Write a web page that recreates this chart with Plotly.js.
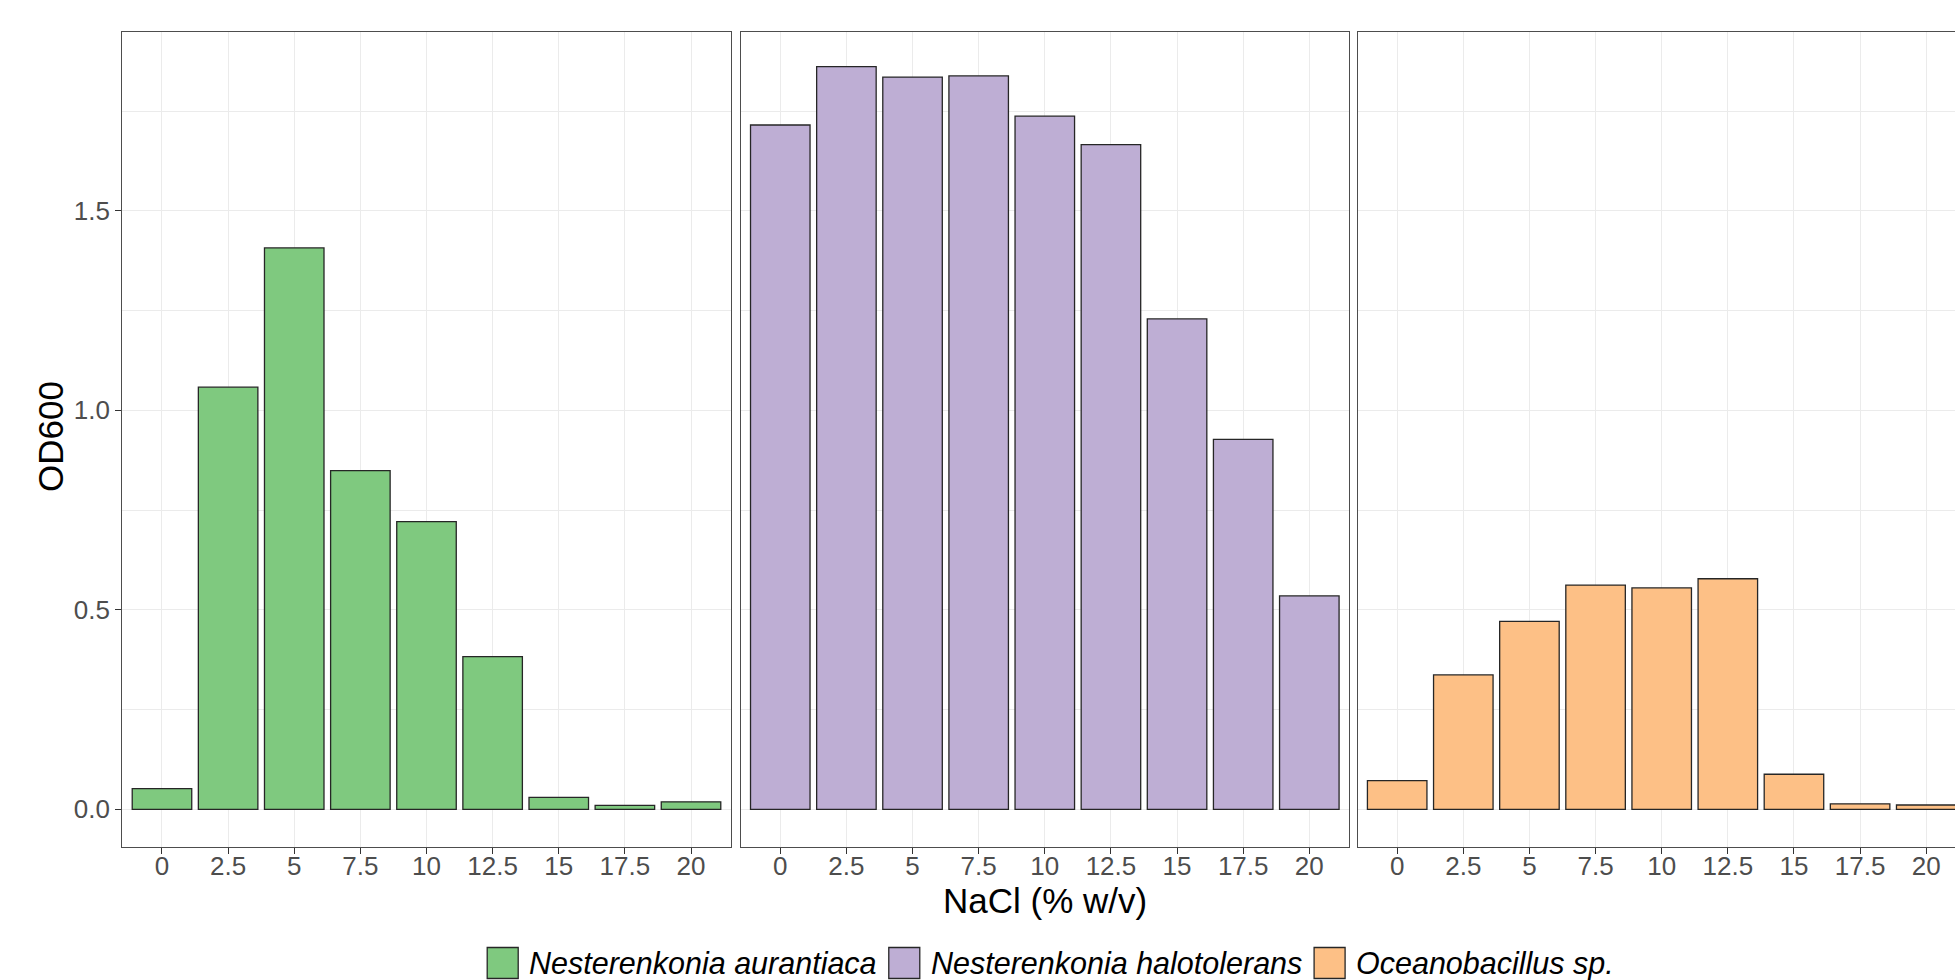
<!DOCTYPE html>
<html>
<head>
<meta charset="utf-8">
<script src="https://cdn.plot.ly/plotly-3.0.1.min.js"></script>
<style>
  html, body { margin: 0; padding: 0; background: #ffffff; }
  #chart { width: 1955px; height: 980px; }
</style>
</head>
<body>
<div id="chart"></div>
<script>
// ---- data ----
const nacl = ['0', '2.5', '5', '7.5', '10', '12.5', '15', '17.5', '20'];
const species = ['Nesterenkonia aurantiaca', 'Nesterenkonia halotolerans', 'Oceanobacillus sp.'];
const odAurantiaca = [0.052, 1.058, 1.407, 0.849, 0.721, 0.383, 0.030, 0.010, 0.019];
const odHalotolerans = [1.715, 1.861, 1.835, 1.838, 1.737, 1.666, 1.229, 0.927, 0.535];
const odOceanobacillus = [0.072, 0.337, 0.471, 0.562, 0.555, 0.578, 0.088, 0.014, 0.011];
const fillColors = ['#7FC97F', '#BEAED4', '#FDC086'];
const yTitle = 'OD600';
const xTitle = 'NaCl (% w/v)';

// ---- layout geometry (pixels) ----
const W = 1955, H = 980;
const FONT = '"Liberation Sans", Arial, sans-serif';
const panelLeft = [122.3, 740.6, 1357.5];
const panelWidth = 608.4;
const panelTop = 32.4, panelBottom = 846.7;
const catWidth = panelWidth / 9.2;
const px = v => v / W;
const py = v => 1 - v / H;

const seriesValues = [odAurantiaca, odHalotolerans, odOceanobacillus];
const axisIds = ['', '2', '3'];

const traces = seriesValues.map((vals, i) => ({
  type: 'bar',
  name: species[i],
  x: nacl,
  y: vals,
  xaxis: 'x' + axisIds[i],
  yaxis: 'y' + axisIds[i],
  marker: { color: fillColors[i], line: { color: '#262626', width: 1.3 } },
  showlegend: false,
  hovertemplate: species[i] + '<br>NaCl %{x}%<br>OD600 %{y}<extra></extra>'
}));

const yRange = [-0.0935, 1.947];
const gridColor = '#EBEBEB';
const lineColor = '#4D4D4D';
const tickFontSize = 26;

function xAxis(i) {
  const left = panelLeft[i];
  const right = Math.min(left + panelWidth, W);
  const visibleCats = (right - left) / catWidth;
  return {
    type: 'category',
    categoryorder: 'array',
    categoryarray: nacl,
    domain: [px(left), px(right)],
    range: [-0.6, -0.6 + visibleCats],
    anchor: 'y' + axisIds[i],
    showgrid: true, gridcolor: gridColor, gridwidth: 1,
    showline: true, mirror: true, linecolor: lineColor, linewidth: 1.3,
    ticks: 'outside', ticklen: 6, tickwidth: 1.1, tickcolor: '#333333',
    ticklabelstandoff: -10,
    tickfont: { family: FONT, size: tickFontSize, color: '#4D4D4D' },
    zeroline: false, fixedrange: true
  };
}
function yAxis(i) {
  return {
    domain: [py(panelBottom), py(panelTop)],
    range: yRange,
    anchor: 'x' + axisIds[i],
    matches: i === 0 ? undefined : 'y',
    tickmode: 'array',
    tickvals: [0, 0.5, 1.0, 1.5],
    ticktext: ['0.0', '0.5', '1.0', '1.5'],
    showticklabels: i === 0,
    ticks: i === 0 ? 'outside' : '',
    ticklen: 6, tickwidth: 1.1, tickcolor: '#333333',
    tickfont: { family: FONT, size: tickFontSize, color: '#4D4D4D' },
    showgrid: true, gridcolor: gridColor, gridwidth: 1,
    minor: { tickmode: 'array', tickvals: [0.25, 0.75, 1.25, 1.75], showgrid: true, gridcolor: gridColor, gridwidth: 0.8, ticks: '' },
    showline: true, mirror: i < 2, linecolor: lineColor, linewidth: 1.3,
    zeroline: false, fixedrange: true
  };
}

// ---- custom legend (large keys as in the reference) ----
const legendFont = 30.5;
const measure = (() => {
  const c = document.createElement('canvas').getContext('2d');
  c.font = 'italic ' + legendFont + 'px "Liberation Sans"';
  return t => c.measureText(t).width;
})();
const keySize = 31, keyGap = 10, itemGap = 13;
const itemWidths = species.map(s => keySize + keyGap + measure(s));
const totalW = itemWidths.reduce((a, b) => a + b, 0) + itemGap * (species.length - 1);
const legendCenterX = 1050, legendCenterY = 963;
let cursor = legendCenterX - totalW / 2;
const shapes = [], annotations = [];
species.forEach((s, i) => {
  shapes.push({
    type: 'rect', xref: 'paper', yref: 'paper',
    x0: px(cursor), x1: px(cursor + keySize),
    y0: py(legendCenterY + keySize / 2), y1: py(legendCenterY - keySize / 2),
    fillcolor: fillColors[i], line: { color: '#262626', width: 1.3 }
  });
  annotations.push({
    xref: 'paper', yref: 'paper', x: px(cursor + keySize + keyGap - 1), y: py(legendCenterY),
    xanchor: 'left', yanchor: 'middle', showarrow: false,
    text: '<i>' + s + '</i>',
    font: { family: FONT, size: legendFont, color: '#000000' }
  });
  cursor += itemWidths[i] + itemGap;
});

annotations.push({
  xref: 'paper', yref: 'paper', x: px(50), y: py(437),
  xanchor: 'center', yanchor: 'middle', textangle: -90, showarrow: false,
  text: yTitle, font: { family: FONT, size: 35, color: '#000000' }
});
annotations.push({
  xref: 'paper', yref: 'paper', x: px(panelLeft[1] + panelWidth / 2), y: py(900),
  xanchor: 'center', yanchor: 'middle', showarrow: false,
  text: xTitle, font: { family: FONT, size: 35, color: '#000000' }
});

const layout = {
  width: W, height: H,
  margin: { l: 0, r: 0, t: 0, b: 0, pad: 0 },
  paper_bgcolor: '#ffffff', plot_bgcolor: '#ffffff',
  bargap: 0.1,
  showlegend: false,
  font: { family: FONT },
  xaxis: xAxis(0), xaxis2: xAxis(1), xaxis3: xAxis(2),
  yaxis: yAxis(0), yaxis2: yAxis(1), yaxis3: yAxis(2),
  shapes: shapes,
  annotations: annotations
};

Plotly.newPlot('chart', traces, layout, { displayModeBar: false });
</script>
</body>
</html>
